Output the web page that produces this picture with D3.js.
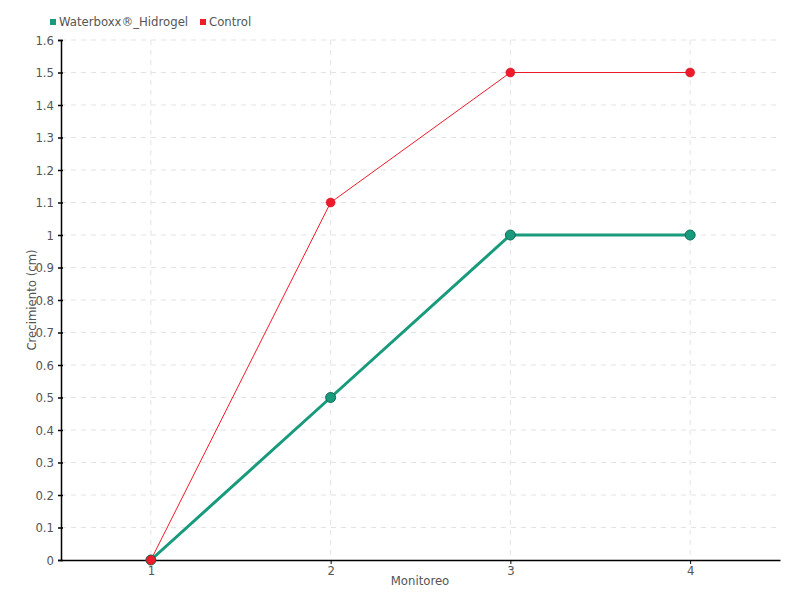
<!DOCTYPE html>
<html><head><meta charset="utf-8">
<script src="https://cdn.jsdelivr.net/npm/d3@7/dist/d3.min.js"></script>
<style>
body{margin:0;background:#fff;}
text{font-family:"DejaVu Sans Condensed","DejaVu Sans",sans-serif;}
</style></head>
<body>
<svg id="c" width="800" height="600"></svg>
<script>
const categories = [1, 2, 3, 4];
const hidrogel = [0, 0.5, 1, 1];
const control = [0, 1.1, 1.5, 1.5];
const yTicks = [0,0.1,0.2,0.3,0.4,0.5,0.6,0.7,0.8,0.9,1,1.1,1.2,1.3,1.4,1.5,1.6];
const seriesNames = ["Waterboxx®_Hidrogel", "Control"];
const colors = ["#189a7c", "#ee1c2a"];

const svg = d3.select("#c");
const L = 61, R = 780, T = 40, B = 560;
const x = d3.scaleLinear().domain([0.5, 4.5]).range([L, R]);
const y = d3.scaleLinear().domain([0, 1.6]).range([B, T]);

// grid
svg.append("g").selectAll("line").data(yTicks.slice(1)).join("line")
  .attr("x1", L).attr("x2", R).attr("y1", d=>y(d)).attr("y2", d=>y(d))
  .attr("stroke", "#e3e3e3").attr("stroke-dasharray", "5,5");
svg.append("g").selectAll("line").data(categories).join("line")
  .attr("x1", d=>x(d)).attr("x2", d=>x(d)).attr("y1", T).attr("y2", B)
  .attr("stroke", "#e3e3e3").attr("stroke-dasharray", "5,5");

// axes
const yAxis = d3.axisLeft(y).tickValues(yTicks).tickSize(3).tickPadding(4).tickFormat(d=>String(d));
const gy = svg.append("g").attr("transform", `translate(${L},0)`).call(yAxis);
gy.select(".domain").attr("stroke", "#000").attr("stroke-width", 1.5);
gy.selectAll(".tick line").attr("stroke", "#000").attr("x2", 2).attr("x1", -3).attr("stroke-width",1.5);
gy.selectAll("text").attr("fill", "#555").style("font-size", "13px");

const xAxis = d3.axisBottom(x).tickValues(categories).tickSize(4).tickPadding(2).tickSizeOuter(0).tickFormat(d3.format("d"));
const gx = svg.append("g").attr("transform", `translate(0,${B})`).call(xAxis);
gx.select(".domain").attr("stroke", "#000").attr("stroke-width", 1.5);
gx.selectAll(".tick line").attr("stroke", "#000");
gx.selectAll("text").attr("fill", "#555").style("font-size", "13px");

// axis titles
svg.append("text").attr("x", 420).attr("y", 585).attr("text-anchor", "middle")
  .attr("fill", "#555").style("font-size", "13px").text("Monitoreo");
svg.append("text").attr("transform", "translate(36,300) rotate(-90)").attr("text-anchor", "middle")
  .attr("fill", "#555").style("font-size", "13px").text("Crecimiento (cm)");

// lines
const line = d3.line().x((d,i)=>x(categories[i])).y(d=>y(d));
svg.append("path").datum(hidrogel).attr("d", line).attr("fill", "none")
  .attr("stroke", colors[0]).attr("stroke-width", 3);
svg.append("path").datum(control).attr("d", line).attr("fill", "none")
  .attr("stroke", colors[1]).attr("stroke-width", 1);

svg.append("g").selectAll("circle").data(hidrogel).join("circle")
  .attr("cx", (d,i)=>x(categories[i])).attr("cy", d=>y(d)).attr("r", 5)
  .attr("fill", colors[0]).attr("stroke", "#0f6e55").attr("stroke-width", 1);
svg.append("g").selectAll("circle").data(control).join("circle")
  .attr("cx", (d,i)=>x(categories[i])).attr("cy", d=>y(d)).attr("r", 4.5)
  .attr("fill", colors[1]).attr("stroke", "#c01020").attr("stroke-width", 0.5);

// legend
const leg = [{x:50, name:seriesNames[0], c:colors[0]}, {x:200, name:seriesNames[1], c:colors[1]}];
leg.forEach(l=>{
  svg.append("rect").attr("x", l.x).attr("y", 19).attr("width", 6).attr("height", 6).attr("fill", l.c);
  svg.append("text").attr("x", l.x+9).attr("y", 26).attr("fill", "#555").style("font-size", "13px").text(l.name);
});
</script>
</body></html>
